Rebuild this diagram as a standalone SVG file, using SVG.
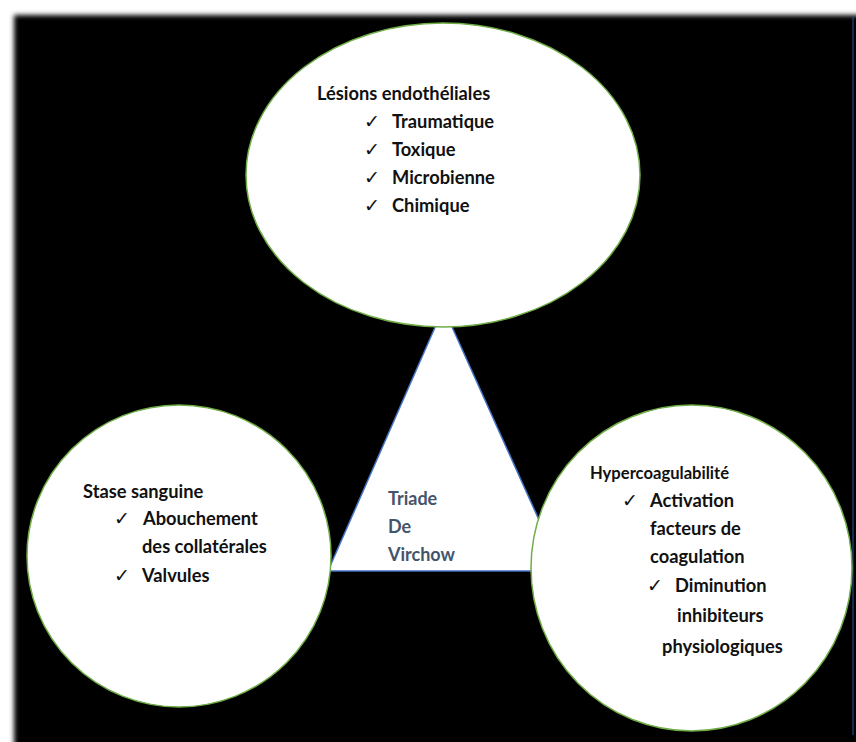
<svg xmlns="http://www.w3.org/2000/svg" width="856" height="742" viewBox="0 0 856 742">
  <defs>
    <filter id="soft" x="-5%" y="-5%" width="110%" height="110%">
      <feGaussianBlur stdDeviation="2.5"/>
    </filter>
    <style>
      .node { fill: #ffffff; stroke: #70AD47; stroke-width: 1.5; }
      .tri { fill: #ffffff; stroke: #4472C4; stroke-width: 1.5; }
      .t { font-family: Lato, "Liberation Sans", sans-serif; font-weight: bold; font-size: 18.3px; fill: #111111; }
      .ck { font-family: "DejaVu Sans", sans-serif; font-size: 19px; fill: #111111; }
      .c { font-family: Lato, "Liberation Sans", sans-serif; font-weight: bold; font-size: 18px; fill: #44546A; }
    </style>
  </defs>
  <rect x="0" y="0" width="856" height="742" fill="#ffffff"/>
  <rect x="14" y="15" width="860" height="735" fill="#000000" filter="url(#soft)"/>
  <line x1="853" y1="17" x2="853" y2="735" stroke="#2F5597" stroke-width="1"/>

  <g id="center">
    <polygon class="tri" points="443.5,308 328,571 562,571"/>
    <text class="c" x="388" y="505">Triade</text>
    <text class="c" x="388" y="533">De</text>
    <text class="c" x="388" y="561">Virchow</text>
  </g>

  <g id="connectors"></g>

  <g id="lesions">
    <ellipse class="node" cx="443" cy="175" rx="197" ry="152"/>
    <text class="t" x="317" y="100">Lésions endothéliales</text>
    <text class="ck" x="364" y="128">✓</text>
    <text class="t" x="392" y="128">Traumatique</text>
    <text class="ck" x="364" y="156">✓</text>
    <text class="t" x="392" y="156">Toxique</text>
    <text class="ck" x="364" y="184">✓</text>
    <text class="t" x="392" y="184">Microbienne</text>
    <text class="ck" x="364" y="212">✓</text>
    <text class="t" x="392" y="212">Chimique</text>
  </g>

  <g id="stase">
    <ellipse class="node" cx="179" cy="556" rx="152" ry="151"/>
    <text class="t" x="83" y="498">Stase sanguine</text>
    <text class="ck" x="114" y="525">✓</text>
    <text class="t" x="143" y="525">Abouchement</text>
    <text class="t" x="142" y="553">des collatérales</text>
    <text class="ck" x="114" y="582">✓</text>
    <text class="t" x="142" y="582">Valvules</text>
  </g>

  <g id="hyper">
    <ellipse class="node" cx="691.5" cy="568" rx="160.5" ry="163"/>
    <text class="t" x="590" y="479" style="font-size:16.6px">Hypercoagulabilité</text>
    <text class="ck" x="622" y="507">✓</text>
    <text class="t" x="650" y="507">Activation</text>
    <text class="t" x="650" y="535">facteurs de</text>
    <text class="t" x="650" y="563">coagulation</text>
    <text class="ck" x="647" y="592">✓</text>
    <text class="t" x="675" y="592">Diminution</text>
    <text class="t" x="677" y="622">inhibiteurs</text>
    <text class="t" x="662" y="653">physiologiques</text>
  </g>
</svg>
